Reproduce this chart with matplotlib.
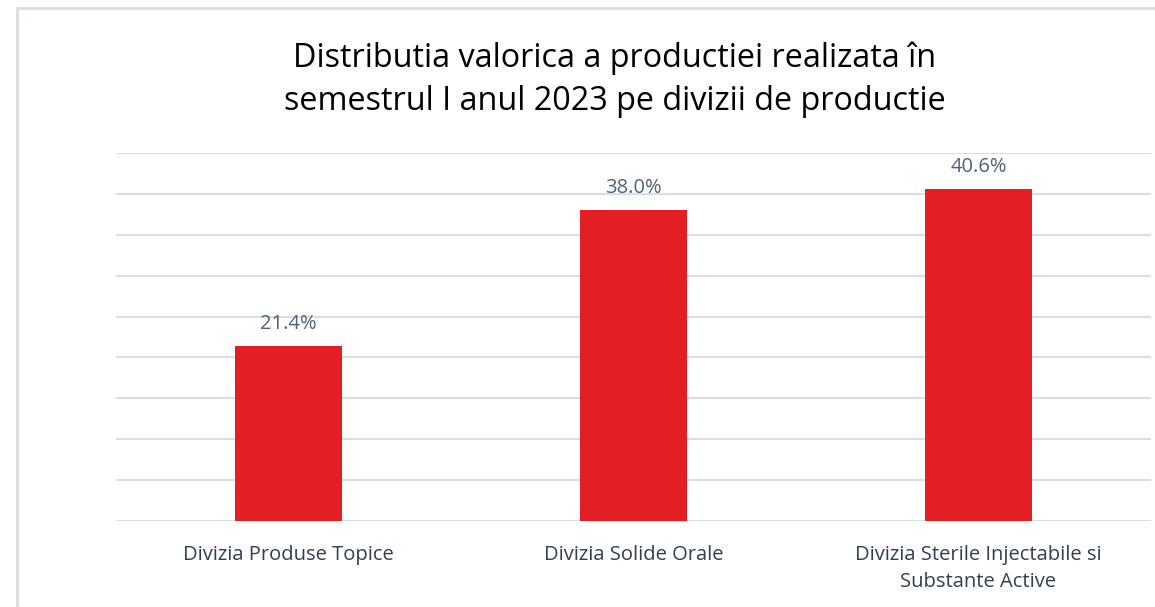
import matplotlib.pyplot as plt
from matplotlib.patches import Rectangle

categories = ['Divizia Produse Topice', 'Divizia Solide Orale',
              'Divizia Sterile Injectabile si\nSubstante Active']
values = [21.4, 38.0, 40.6]
title = 'Distributia valorica a productiei realizata în\nsemestrul I anul 2023 pe divizii de productie'

plt.rcParams['font.family'] = ['Open Sans', 'DejaVu Sans']

fig = plt.figure(figsize=(11.55, 6.07), dpi=100)
W, H = 1155, 607
ax = fig.add_axes([116 / W, 1 - 521 / H, (1151 - 116) / W, (521 - 153) / H])

# outer chart border (clipped at right/bottom like the source)
fig.patches.append(Rectangle((17 / W, -0.1), 1.2, 1 - 8 / H + 0.1, transform=fig.transFigure,
                             fill=False, edgecolor='#D9DEE3', linewidth=2))

x = range(len(categories))
bars = ax.bar(x, values, width=0.313, color='#E31E24', zorder=3)
for b, v in zip(bars, values):
    ax.annotate(f'{v:.1f}%', (b.get_x() + b.get_width() / 2, v), xytext=(0, 8.5),
                textcoords='offset points', ha='center', va='bottom',
                fontsize=14.5, color='#4F6276')

ax.set_xlim(-0.5, 2.5)
ax.set_ylim(0, 45)
ax.set_yticks(range(0, 50, 5))
ax.yaxis.grid(True, color='#D9DEE3', linewidth=1.5, zorder=0)
ax.tick_params(axis='y', left=False, labelleft=False)
ax.tick_params(axis='x', length=0, pad=17, labelsize=14.5, colors='#333F4F')
ax.set_xticks(list(x))
ax.set_xticklabels(categories, linespacing=1.5)
for s in ax.spines.values():
    s.set_visible(False)

fig.text(615 / W, 1 - 80 / H, title, ha='center', va='center', fontsize=23.3,
         color='black', linespacing=1.4)

fig.savefig('out.png', dpi=100)
